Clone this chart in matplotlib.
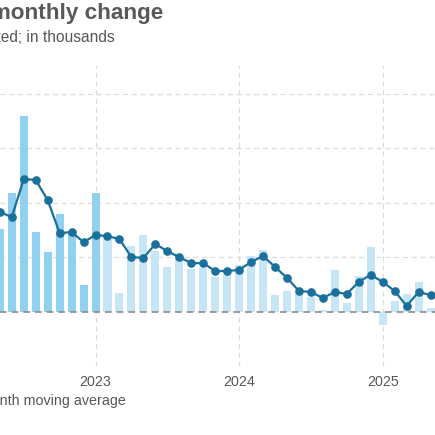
import numpy as np
import matplotlib
matplotlib.use("Agg")
import matplotlib.pyplot as plt

plt.rcParams['font.family'] = ['Liberation Sans', 'DejaVu Sans']

# months shown, May 2022 .. Jun 2025 (last one only for the moving average)
months = ["2022-05", "2022-06", "2022-07", "2022-08", "2022-09", "2022-10",
          "2022-11", "2022-12", "2023-01", "2023-02", "2023-03", "2023-04",
          "2023-05", "2023-06", "2023-07", "2023-08", "2023-09", "2023-10",
          "2023-11", "2023-12", "2024-01", "2024-02", "2024-03", "2024-04",
          "2024-05", "2024-06", "2024-07", "2024-08", "2024-09", "2024-10",
          "2024-11", "2024-12", "2025-01", "2025-02", "2025-03", "2025-04",
          "2025-05", "2025-06"]

# monthly change, in thousands
monthly_change = [304, 436, 718, 293, 220, 359, 293, 99, 436, 267, 70, 242,
                  282, 223, 165, 198, 158, 161, 128, 147, 172, 205, 227, 62,
                  77, 70, 55, 7, 154, 33, 132, 238, -48, 40, 66, 110, 15]

# 3-month moving average
moving_avg = [366, 348, 487, 484, 410, 289, 293, 256, 282, 278, 267, 201,
              198, 249, 223, 201, 179, 179, 150, 150, 154, 183, 205, 165,
              125, 77, 73, 51, 73, 66, 110, 136, 110, 77, 22, 73, 62, 45]

# bars up to this month drawn in the darker shade
dark_until = "2023-01"

year_labels = ["2023", "2024", "2025"]
y_grid = [-200, 0, 200, 400, 600, 800]

BAR_DARK = '#91d0ee'
BAR_LIGHT = '#c6e6f6'
LINE_COL = '#1a709c'
TEXT_COL = '#575757'

fig = plt.figure(figsize=(4.352, 4.352), dpi=100)
ax = fig.add_axes([0, 0.1575, 1, 0.693])

# month index relative to Jan 2023
idx = np.arange(len(months)) - months.index("2023-01")
nb = len(monthly_change)
cut = months.index(dark_until)
colors = [BAR_DARK if i <= cut else BAR_LIGHT for i in range(nb)]

ax.bar(idx[:nb], monthly_change, width=0.67, color=colors, zorder=2)
ax.plot(idx, moving_avg, color=LINE_COL, lw=1.6, marker='o', ms=5.2, zorder=4)

ax.set_xlim(-7.985, 28.39)
ax.set_ylim(-200, 906)

for s in ax.spines.values():
    s.set_visible(False)

for v in y_grid:
    if v == 0:
        ax.axhline(v, color='#8c8c8c', lw=1.2, ls=(0, (4, 3)), zorder=3)
    else:
        ax.axhline(v, color='#dcdcdc', lw=0.9, ls=(0, (4, 3)), zorder=1)

year_pos = [months.index(y + "-01") - months.index("2023-01") for y in year_labels]
for p in year_pos:
    ax.axvline(p, color='#dcdcdc', lw=0.9, ls=(0, (4, 3)), zorder=1)

ax.set_xticks(year_pos)
ax.set_xticklabels(year_labels, fontsize=10.3, color=TEXT_COL)
ax.set_yticks([])
ax.tick_params(axis='x', length=0, pad=6)

fig.text(163 / 435, 1 - 18.5 / 435, "Payroll employment, monthly change",
         ha='right', va='baseline', fontsize=16.2, fontweight='bold', color='#595959')
fig.text(115 / 435, 1 - 41.5 / 435, "Seasonally adjusted; in thousands",
         ha='right', va='baseline', fontsize=11.2, color=TEXT_COL)
fig.text(126 / 435, 1 - 405 / 435, "3-month moving average",
         ha='right', va='baseline', fontsize=10.3, color=TEXT_COL)

fig.savefig("out.png", dpi=100)
